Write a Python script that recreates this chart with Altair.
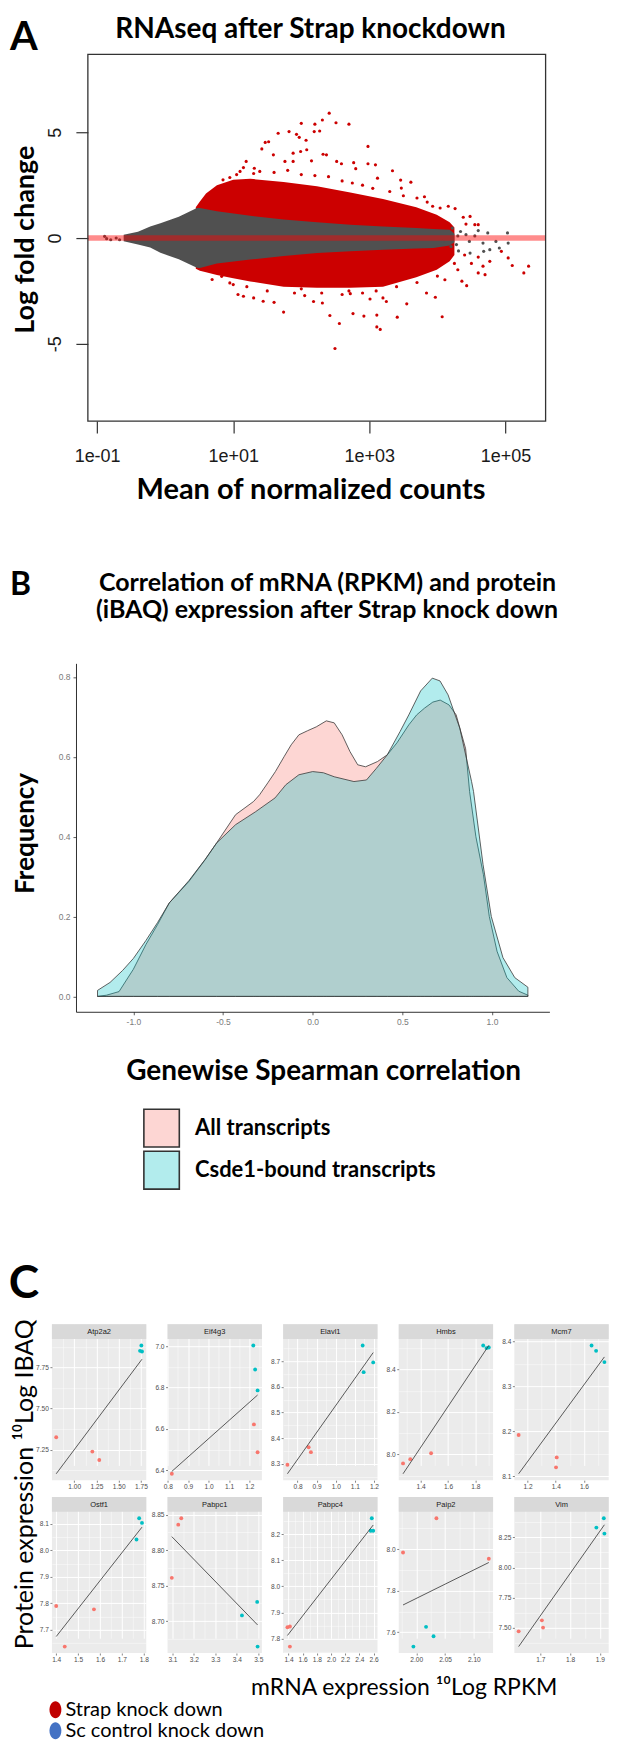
import altair as alt
import numpy as np
import pandas as pd

BOLD = "Lato"
SANS = "Liberation Sans"
DUMMY = alt.Data(values=[{"k": 0}])

# ================= Panel A data: MA plot (x = log10 mean of normalized counts) =================
ma_gray_x = [-0.61, -0.4, -0.22, -0.07, 0.2, 0.466, 0.51, 0.76, 1.25, 1.74, 2.23, 2.72, 3.2, 3.69, 3.94, 4.18, 4.25]
ma_gray_hi = [0.15, 0.3, 0.55, 0.7, 1.0, 1.42, 1.42, 1.26, 1.05, 0.87, 0.75, 0.63, 0.55, 0.47, 0.43, 0.39, 0.2]
ma_gray_lo = [-0.15, -0.3, -0.45, -0.7, -1.0, -1.4, -1.42, -1.2, -1.02, -0.85, -0.71, -0.62, -0.55, -0.5, -0.47, -0.35, -0.2]
ma_red_x = [0.45, 0.51, 0.6, 0.76, 1.0, 1.25, 1.74, 2.23, 2.72, 3.2, 3.69, 3.99, 4.18, 4.25]
ma_red_hi = [1.45, 1.73, 2.1, 2.5, 2.75, 2.8, 2.65, 2.45, 2.15, 1.85, 1.45, 1.1, 0.75, 0.5]
ma_red_lo = [-1.45, -1.55, -1.62, -1.75, -1.9, -2.05, -2.3, -2.35, -2.35, -2.3, -1.85, -1.5, -1.1, -0.8]
ma_red_pts_x = [2.41, 2.31, 2.51, 2.70, 2.20, 2.19, 2.27, 2.00, 1.82, 1.66, 1.93, 1.97, 2.07, 1.47, 1.52, 1.42,
                2.98, 1.99, 2.08, 2.32, 2.37, 1.59, 1.88, 1.19, 1.76, 1.88, 2.15, 2.52, 2.59, 2.77, 2.80, 2.98,
                3.09, 3.34, 3.46, 3.61, 3.81, 1.31, 1.39, 1.10, 1.15, 0.95, 0.78, 0.69, 0.56, 4.04, 4.26, 4.16,
                4.38, 4.48, 4.55, 4.42, 4.60, 3.70, 3.93, 3.47, 3.12,
                1.05, 1.60, 2.00, 2.40, 2.60, 2.90, 3.30, 3.50, 3.85, 1.30, 1.80, 2.20, 0.85, 2.75, 3.05,
                2.495, 2.56, 2.42, 1.74, 2.76, 2.92, 3.11, 3.11, 3.16, 3.41, 4.07, 3.55, 3.97, 1.07, 1.15, 1.30,
                1.44, 1.60, 2.05, 2.18, 2.31, 2.60, 2.72, 3.01, 3.20, 3.25, 3.84, 4.36, 4.43, 4.11, 5.04, 5.10,
                5.34, 5.27, 4.77, 4.67, 4.60, 4.70, 4.94, 0.69, 0.83, 0.95,
                1.20, 1.50, 1.90, 2.30, 2.70, 3.10, 3.40, 3.70, 4.00, 4.30, 4.50, 4.60, 4.40, 4.25, 1.00, 2.00, 2.90]
ma_red_pts_y = [5.90, 5.58, 5.45, 5.38, 5.38, 5.03, 5.06, 5.42, 5.03, 4.95, 4.90, 4.76, 4.62, 4.52, 4.55, 4.21,
                4.33, 4.09, 4.17, 3.96, 3.93, 3.93, 4.01, 3.62, 3.62, 3.62, 3.65, 3.62, 3.51, 3.56, 3.28, 3.51,
                3.46, 3.18, 2.74, 2.64, 1.95, 3.30, 3.15, 3.15, 3.33, 2.86, 2.20, 1.89, 1.58, 1.42, 1.39, 1.50,
                0.98, 1.02, 0.63, 0.66, 0.63, 1.89, 1.50, 2.36, 2.83,
                3.0, 3.1, 3.0, 2.9, 2.7, 2.5, 2.2, 2.0, 1.7, 3.05, 3.2, 2.95, 2.75, 2.6, 2.35,
                -5.22, -4.04, -3.66, -3.50, -3.57, -3.69, -3.64, -4.20, -4.32, -3.74, -3.72, -3.11, -2.80, -2.67, -2.75, -2.83,
                -2.99, -3.04, -2.72, -3.00, -3.07, -2.67, -2.63, -2.88, -2.83, -3.00, -2.60, -2.04, -2.25, -1.97, -0.94, -1.30,
                -1.33, -1.65, -1.10, -1.33, -1.65, -1.73, -0.63, -1.96, -1.81, -2.12,
                -2.3, -2.5, -2.6, -2.6, -2.5, -2.5, -2.3, -2.1, -1.8, -1.5, -1.2, -0.9, -0.8, -1.2, -2.2, -2.4, -2.6]
ma_gray_pts_x = [-0.89, -0.80, -0.72, -0.67, -0.86, 4.08, 4.28, 4.47, 4.67, 4.86, 5.04, 4.77, 4.91, 5.03, 4.74,
                 4.42, 4.34, 4.22, 4.55, 4.60, 4.30, 4.48, 4.68, 4.31, 4.20]
ma_gray_pts_y = [0.08, -0.08, 0.0, -0.08, -0.03, -0.16, -0.31, -0.16, -0.24, -0.16, -0.24, -0.55, -0.47, 0.24, 0.24,
                 0.16, 0.31, 0.47, 0.10, 0.35, 0.10, -0.71, -0.63, -0.61, -0.40]
ma_zero = [0]
ma_x_ticks = [-1, 1, 3, 5]
ma_x_labels = ["1e-01", "1e+01", "1e+03", "1e+05"]
ma_y_ticks = [-5, 0, 5]

# ================= Panel B data: density of genewise Spearman correlation =================
dens_groups = ["All transcripts", "Csde1-bound transcripts"]
dens_colors = ["#F8766D", "#00BFC4"]
all_x = [-1.2, -1.15, -1.08, -1.0, -0.93, -0.865, -0.8, -0.69, -0.6, -0.536, -0.43, -0.33, -0.296, -0.25,
         -0.208, -0.16, -0.12, -0.077, -0.03, 0.02, 0.076, 0.12, 0.164, 0.208, 0.251, 0.295, 0.361, 0.416,
         0.47, 0.536, 0.58, 0.624, 0.67, 0.711, 0.76, 0.80, 0.853, 0.875, 0.91, 0.952, 0.985, 1.028, 1.083,
         1.149, 1.2]
all_y = [0.0, 0.003, 0.012, 0.068, 0.13, 0.18, 0.234, 0.288, 0.342, 0.384, 0.455, 0.488, 0.505, 0.535,
         0.563, 0.60, 0.63, 0.655, 0.665, 0.675, 0.69, 0.685, 0.655, 0.613, 0.58, 0.575, 0.588, 0.605,
         0.635, 0.68, 0.705, 0.722, 0.737, 0.742, 0.73, 0.705, 0.62, 0.513, 0.40, 0.305, 0.20, 0.113, 0.047,
         0.013, 0.003]
csde_x = [-1.2, -1.13, -1.06, -1.0, -0.93, -0.865, -0.8, -0.69, -0.6, -0.536, -0.43, -0.32, -0.21, -0.15,
          -0.077, 0.0, 0.06, 0.12, 0.23, 0.3, 0.355, 0.416, 0.487, 0.536, 0.602, 0.667, 0.71, 0.755, 0.82,
          0.886, 0.897, 0.95, 0.996, 1.061, 1.127, 1.2]
csde_y = [0.015, 0.035, 0.065, 0.095, 0.14, 0.185, 0.234, 0.29, 0.343, 0.384, 0.43, 0.462, 0.497, 0.53,
          0.555, 0.563, 0.56, 0.55, 0.538, 0.542, 0.571, 0.605, 0.663, 0.705, 0.765, 0.797, 0.79, 0.755, 0.672,
          0.538, 0.513, 0.33, 0.2, 0.097, 0.047, 0.023]
b_x_ticks = [-1.0, -0.5, 0.0, 0.5, 1.0]
b_y_ticks = [0.0, 0.2, 0.4, 0.6, 0.8]
b_title = ["Correlation of mRNA (RPKM) and protein", "(iBAQ) expression after Strap knock down"]

# ================= Panel C data: per-gene mRNA (10Log RPKM) vs protein (10Log iBAQ) =================
genes = ["Atp2a2", "Eif4g3", "Elavl1", "Hmbs", "Mcm7", "Ostf1", "Pabpc1", "Pabpc4", "Paip2", "Vim"]
strap_x = {"Atp2a2": [0.797, 1.203, 1.281], "Eif4g3": [0.82, 1.222, 1.24], "Elavl1": [0.747, 0.858, 0.870],
           "Hmbs": [1.271, 1.324, 1.476], "Mcm7": [1.137, 1.407, 1.402], "Ostf1": [1.40, 1.439, 1.5725],
           "Pabpc1": [3.097, 3.127, 3.141], "Pabpc4": [1.385, 1.42, 1.42], "Paip2": [1.977, 2.035, 2.126],
           "Vim": [1.627, 1.705, 1.709]}
strap_y = {"Atp2a2": [7.325, 7.238, 7.187], "Eif4g3": [6.384, 6.622, 6.488], "Elavl1": [8.297, 8.365, 8.346],
           "Hmbs": [7.958, 7.978, 8.006], "Mcm7": [8.192, 8.142, 8.120], "Ostf1": [7.79, 7.6375, 7.7775],
           "Pabpc1": [8.761, 8.836, 8.845], "Pabpc4": [7.843, 7.846, 7.769], "Paip2": [7.984, 8.149, 7.954],
           "Vim": [7.472, 7.563, 7.503]}
ctrl_x = {"Atp2a2": [1.754, 1.739, 1.761], "Eif4g3": [1.219, 1.228, 1.24], "Elavl1": [1.141, 1.146, 1.196],
          "Hmbs": [1.857, 1.881, 1.898], "Mcm7": [1.654, 1.686, 1.745], "Ostf1": [1.767, 1.779, 1.792],
          "Pabpc1": [3.424, 3.495, 3.497], "Pabpc4": [2.575, 2.56, 2.595], "Paip2": [1.995, 2.017, 2.030],
          "Vim": [1.888, 1.913, 1.915]}
ctrl_y = {"Atp2a2": [7.884, 7.851, 7.847], "Eif4g3": [7.003, 6.887, 6.786], "Elavl1": [8.761, 8.657, 8.695],
          "Hmbs": [8.5125, 8.50, 8.503], "Mcm7": [8.391, 8.379, 8.354], "Ostf1": [8.04, 8.12, 8.1025],
          "Pabpc1": [8.708, 8.727, 8.664], "Pabpc4": [8.261, 8.213, 8.213], "Paip2": [7.531, 7.626, 7.581],
          "Vim": [8.33, 8.407, 8.28]}
x_major = {"Atp2a2": [1.0, 1.25, 1.5, 1.75], "Eif4g3": [0.8, 0.9, 1.0, 1.1, 1.2],
           "Elavl1": [0.8, 0.9, 1.0, 1.1, 1.2], "Hmbs": [1.4, 1.6, 1.8], "Mcm7": [1.2, 1.4, 1.6],
           "Ostf1": [1.4, 1.5, 1.6, 1.7, 1.8], "Pabpc1": [3.1, 3.2, 3.3, 3.4, 3.5],
           "Pabpc4": [1.4, 1.6, 1.8, 2.0, 2.2, 2.4, 2.6], "Paip2": [2.0, 2.05, 2.1], "Vim": [1.7, 1.8, 1.9]}
y_major = {"Atp2a2": [7.25, 7.5, 7.75], "Eif4g3": [6.4, 6.6, 6.8, 7.0], "Elavl1": [8.3, 8.4, 8.5, 8.6, 8.7],
           "Hmbs": [8.0, 8.2, 8.4], "Mcm7": [8.1, 8.2, 8.3, 8.4], "Ostf1": [7.7, 7.8, 7.9, 8.0, 8.1],
           "Pabpc1": [8.7, 8.75, 8.8, 8.85], "Pabpc4": [7.8, 7.9, 8.0, 8.1, 8.2], "Paip2": [7.6, 7.8, 8.0],
           "Vim": [7.5, 7.75, 8.0, 8.25]}
c_groups = ["Strap knock down", "Sc control knock down"]
c_point_colors = ["#F8766D", "#00BFC4"]
c_legend_colors = ["#C00000", "#4472C4"]
c_ytitle = "Protein expression  \u00b9\u2070Log IBAQ"
c_xtitle = "mRNA expression \u00b9\u2070Log RPKM"

# ================= layout helpers (page pixel positions) =================
OX = 51.5
LEFT = 8 - OX


def txt(s, x, y, size, bold=True, angle=0, align="center", baseline="middle", font=BOLD):
    kw = dict(text=s, font=font, fontSize=size, align=align, baseline=baseline, color="black")
    if bold:
        kw["fontWeight"] = "bold"
    if angle:
        kw["angle"] = angle
    return alt.Chart(DUMMY).mark_text(**kw).encode(x=alt.value(x), y=alt.value(y))


def bound(y0, y1):
    return alt.Chart(DUMMY).mark_rule(strokeOpacity=0).encode(
        x=alt.value(LEFT), y=alt.value(y0), y2=alt.value(y1))


MINUS_FIX = "replace(format(datum.value, '{f}'), '\u2212', '-')"

# ================= Row A =================
A_TOP = 52.7
a_x0 = 87.5 - OX
a_w = 546.0 - OX
a_h = 420.0 - A_TOP
sxA = alt.Scale(domain=[-1.136, 5.59], range=[a_x0, a_w], nice=False, zero=False)
syA = alt.Scale(domain=[-8.65, 8.68], nice=False, zero=False)
lblA = " : ".join(f"datum.value == {v} ? '{s}'" for v, s in zip(ma_x_ticks, ma_x_labels)) + " : ''"
axA_x = alt.Axis(values=ma_x_ticks, labelExpr=lblA, title=None, grid=False, domain=False, orient="bottom",
                 tickSize=12, tickWidth=1.2, tickColor="#333333", labelFont=SANS, labelFontSize=18,
                 labelColor="#1a1a1a", labelPadding=15, labelFlush=False, labelOverlap=False)
axA_y = alt.Axis(values=ma_y_ticks, labelExpr="'' + datum.value", title=None, grid=False, domain=False,
                 orient="left", offset=-a_x0, tickSize=12, tickWidth=1.2, tickColor="#333333",
                 labelFont=SANS, labelFontSize=18, labelColor="#1a1a1a", labelAngle=270,
                 labelAlign="center", labelBaseline="alphabetic", labelPadding=15,
                 labelFlush=False, labelOverlap=False)
XA = alt.X("x:Q", scale=sxA, axis=axA_x)

dfA_red = pd.DataFrame({"x": ma_red_x, "hi": ma_red_hi, "lo": ma_red_lo})
dfA_gray = pd.DataFrame({"x": ma_gray_x, "hi": ma_gray_hi, "lo": ma_gray_lo})
dfA_rp = pd.DataFrame({"x": ma_red_pts_x, "y": ma_red_pts_y})
dfA_gp = pd.DataFrame({"x": ma_gray_pts_x, "y": ma_gray_pts_y})

red_band = alt.Chart(dfA_red).mark_area(color="#CC0000").encode(
    x=XA, y=alt.Y("hi:Q", scale=syA, axis=axA_y), y2=alt.Y2("lo"))
gray_band = alt.Chart(dfA_gray).mark_area(color="#505050").encode(
    x=XA, y=alt.Y("hi:Q", scale=syA, axis=axA_y), y2=alt.Y2("lo"))
red_pts = alt.Chart(dfA_rp).mark_circle(size=10, color="#CC0000", opacity=1).encode(
    x=XA, y=alt.Y("y:Q", scale=syA, axis=axA_y))
gray_pts = alt.Chart(dfA_gp).mark_circle(size=10, color="#505050", opacity=1).encode(
    x=XA, y=alt.Y("y:Q", scale=syA, axis=axA_y))
zero_line = alt.Chart(pd.DataFrame({"v": ma_zero})).mark_rule(color="#FF0000", strokeWidth=5.5, opacity=0.45).encode(
    y=alt.Y("v:Q", scale=syA, axis=axA_y), x=alt.value(a_x0), x2=alt.value(a_w))
frameA = alt.Chart(DUMMY).mark_rect(fillOpacity=0, stroke="#333333", strokeWidth=1.3).encode(
    x=alt.value(a_x0), x2=alt.value(a_w), y=alt.value(0), y2=alt.value(a_h))

rowA = alt.layer(
    red_band, gray_band, red_pts, gray_pts, zero_line, frameA,
    txt("A", 23.5 - OX, 48 - A_TOP, 40, baseline="alphabetic"),
    txt("RNAseq after Strap knockdown", 310.5 - OX, 36 - A_TOP, 28, baseline="alphabetic"),
    txt("Mean of normalized counts", 311 - OX, 498.3 - A_TOP, 29, baseline="alphabetic"),
    txt("Log fold change", 26 - OX, 238.3 - A_TOP, 27, angle=270),
    bound(8 - A_TOP, 510 - A_TOP),
).properties(width=a_w, height=a_h)

# ================= Row B =================
B_TOP = 661.7
b_x0 = 75.6 - OX
b_w = 549.8 - OX
b_h = 1010.7 - B_TOP
sxB = alt.Scale(domain=[-1.32, 1.32], range=[b_x0, b_w], nice=False, zero=False)
syB = alt.Scale(domain=[-0.0385, 0.834], nice=False, zero=False)
fmtB = MINUS_FIX.format(f=".1f")
axB_common = dict(title=None, grid=False, domain=True, domainColor="#1a1a1a", domainWidth=0.9, tickSize=3,
                  tickWidth=0.8, tickColor="#333333", labelFont=SANS, labelFontSize=8.5, labelColor="#7a7a7a",
                  labelFlush=False, labelOverlap=False, labelExpr=fmtB)
axB_x = alt.Axis(values=b_x_ticks, orient="bottom", labelPadding=2.5, **axB_common)
axB_y = alt.Axis(values=b_y_ticks, orient="left", offset=-b_x0, labelPadding=3, **axB_common)
fillB = alt.Scale(domain=dens_groups, range=dens_colors)
dfB = pd.DataFrame({"x": all_x + csde_x, "y": all_y + csde_y,
                    "group": [dens_groups[0]] * len(all_x) + [dens_groups[1]] * len(csde_x)})


def dens_layer(grp):
    return alt.Chart(dfB).transform_filter(alt.datum.group == grp).mark_area(
        fillOpacity=0.3, stroke="#3a3a3a", strokeWidth=0.8).encode(
        x=alt.X("x:Q", scale=sxB, axis=axB_x),
        y=alt.Y("y:Q", scale=syB, axis=axB_y),
        fill=alt.Fill("group:N", scale=fillB, legend=None))


dfB_leg = pd.DataFrame({"group": dens_groups})
legB_y = alt.Y("group:N", scale=alt.Scale(type="band", domain=dens_groups,
                                          range=[1108.3 - B_TOP, 1188.3 - B_TOP],
                                          paddingInner=0.1, paddingOuter=0), axis=None)
legB_rect = alt.Chart(dfB_leg).mark_rect(fillOpacity=0.3, stroke="#333333", strokeWidth=1.6).encode(
    y=legB_y, x=alt.value(143.6 - OX), x2=alt.value(179.1 - OX),
    fill=alt.Fill("group:N", scale=fillB, legend=None))
legB_text = alt.Chart(dfB_leg).mark_text(align="left", baseline="middle", font=BOLD, fontWeight="bold",
                                         fontSize=22, color="black").encode(
    y=legB_y, x=alt.value(194.8 - OX), text="group:N")

rowB = alt.layer(
    alt.layer(dens_layer(dens_groups[0]), dens_layer(dens_groups[1])),
    legB_rect, legB_text,
    txt("B", 20 - OX, 593 - B_TOP, 32, baseline="alphabetic"),
    txt(b_title[0], 327.6 - OX, 589 - B_TOP, 25, baseline="alphabetic"),
    txt(b_title[1], 327 - OX, 616 - B_TOP, 25, baseline="alphabetic"),
    txt("Frequency", 26 - OX, 832 - B_TOP, 26, angle=270),
    txt("Genewise Spearman correlation", 323.7 - OX, 1079 - B_TOP, 28, baseline="alphabetic"),
    bound(510 - B_TOP, 1190 - B_TOP),
).resolve_scale(y="independent").properties(width=b_w, height=b_h)

# ================= Row C =================
C_TOP = 1322.7
PW, STRIP, PH = 94.5, 14.8, 141.4
PH_T = STRIP + PH
COLSP = 20.8
ROW2_TOP = 1495.0
ROWSP = ROW2_TOP - C_TOP - PH_T
ELLIPSE = "M0,-1C0.39,-1 0.7,-0.55 0.7,0C0.7,0.55 0.39,1 0,1C-0.39,1 -0.7,0.55 -0.7,0C-0.7,-0.55 -0.39,-1 0,-1Z"


def fmt_of(vals):
    return ".2f" if any(abs(v * 10 - round(v * 10)) > 1e-6 for v in vals) else ".1f"


def gg_axis(major, dom, orient):
    step = major[1] - major[0]
    cands = [major[0] - step / 2] + [(a + b) / 2 for a, b in zip(major[:-1], major[1:])] + [major[-1] + step / 2]
    minor = [round(c, 6) for c in cands if dom[0] <= c <= dom[1]]
    vals = sorted(major + minor)
    test = "indexof([" + ",".join(repr(v) for v in major) + "], datum.value) >= 0"
    lab = MINUS_FIX.format(f=fmt_of(major))
    return alt.Axis(values=vals, orient=orient, title=None, domain=False,
                    labelExpr=f"({test}) ? {lab} : ''", labelOverlap=False, labelFlush=False,
                    labelFont=SANS, labelFontSize=6.6, labelColor="#4D4D4D", labelPadding=1.5,
                    tickSize=2, tickWidth=0.6, tickColor="#333333",
                    tickOpacity={"condition": {"test": test, "value": 1}, "value": 0},
                    grid=True, gridColor="#FFFFFF", gridOpacity=1,
                    gridWidth={"condition": {"test": test, "value": 1.0}, "value": 0.45})


def make_panel(g, extra):
    xs = strap_x[g] + ctrl_x[g]
    ys = strap_y[g] + ctrl_y[g]
    d = pd.DataFrame({"x": xs, "y": ys, "group": [c_groups[0]] * 3 + [c_groups[1]] * 3})
    k, b = np.polyfit(xs, ys, 1)
    fit_ends = [k * min(xs) + b, k * max(xs) + b]
    xl, xh = min(xs), max(xs)
    yl, yh = min(ys + fit_ends), max(ys + fit_ends)
    xdom = [xl - 0.05 * (xh - xl), xh + 0.05 * (xh - xl)]
    ydom = [yl - 0.05 * (yh - yl), yh + 0.05 * (yh - yl)]
    X = alt.X("x:Q", scale=alt.Scale(domain=xdom, nice=False, zero=False), axis=gg_axis(x_major[g], xdom, "bottom"))
    Y = alt.Y("y:Q", scale=alt.Scale(domain=ydom, nice=False, zero=False, range=[PH_T, STRIP]),
              axis=gg_axis(y_major[g], ydom, "left"))
    pts = alt.Chart(d).mark_circle(size=15, opacity=1).encode(
        x=X, y=Y, color=alt.Color("group:N", scale=alt.Scale(domain=c_groups, range=c_point_colors), legend=None))
    fit = alt.Chart(d).transform_regression("x", "y").mark_line(color="#333333", strokeWidth=0.8).encode(x=X, y=Y)
    strip = alt.Chart(DUMMY).mark_rect(fill="#D9D9D9").encode(
        x=alt.value(0), x2=alt.value(PW), y=alt.value(0), y2=alt.value(STRIP))
    stxt = alt.Chart(DUMMY).mark_text(text=g, font=SANS, fontSize=7.5, color="#1A1A1A", baseline="middle").encode(
        x=alt.value(PW / 2), y=alt.value(STRIP / 2 + 0.5))
    inner = alt.layer(pts, fit, strip, stxt)
    return alt.layer(inner, *extra).resolve_scale(y="independent", color="independent").properties(
        width=PW, height=PH_T, view=alt.ViewBackground(fill="#EBEBEB", strokeWidth=0))


dfC_leg = pd.DataFrame({"lab": c_groups})
legC_y = alt.Y("lab:N", scale=alt.Scale(type="point", domain=c_groups,
                                        range=[1708 - ROW2_TOP, 1729 - ROW2_TOP], padding=0), axis=None)
legC_sym = alt.Chart(dfC_leg).mark_point(shape=ELLIPSE, size=289, filled=True, opacity=1, strokeWidth=0).encode(
    y=legC_y, x=alt.value(55 - OX),
    color=alt.Color("lab:N", scale=alt.Scale(domain=c_groups, range=c_legend_colors), legend=None))
legC_txt = alt.Chart(dfC_leg).mark_text(align="left", baseline="middle", font=BOLD, fontSize=20,
                                        color="black").encode(y=legC_y, x=alt.value(65 - OX), text="lab:N")

extras = {
    0: [txt("C", 23.5 - OX, 1282 - C_TOP, 46),
        txt(c_ytitle, 24.5 - OX, 1483 - C_TOP, 25, bold=False, angle=270),
        bound(1190 - C_TOP, 0)],
    5: [txt(c_xtitle, 404.4 - OX, 1686 - ROW2_TOP, 23, bold=False),
        legC_sym, legC_txt,
        bound(0, 1740 - ROW2_TOP)],
}
panels = [make_panel(g, extras.get(i, [])) for i, g in enumerate(genes)]
gridC = alt.concat(*panels, columns=5, spacing={"row": ROWSP, "column": COLSP}, bounds="flush")

chart = alt.vconcat(rowA, rowB, gridC, spacing=0).properties(padding=0).configure_view(strokeWidth=0)
chart.save("out.html", embed_options={"renderer": "svg", "actions": False})
